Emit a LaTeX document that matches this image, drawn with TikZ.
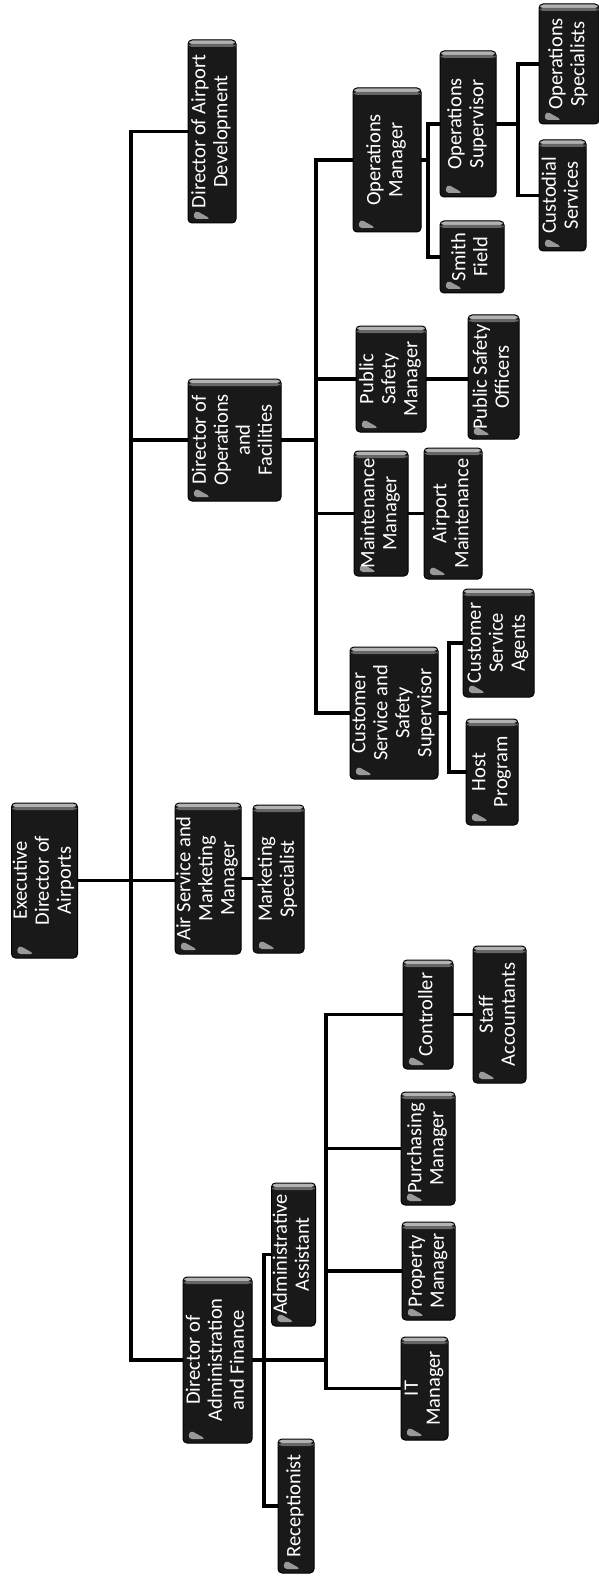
\documentclass[tikz,border=0pt]{standalone}
\usepackage{graphicx}
\usepackage{fontspec}
\setmainfont{Carlito}
\newcommand\boxtext[1]{\rotatebox{90}{\fontsize{20.5}{22}\selectfont\begin{tabular}{@{}c@{}}#1\end{tabular}}}
\newcommand\orgbox[6]{\node[orgb, minimum width={(#4-#2)*1pt}, minimum height={(#5-#3)*1pt}] (#1) at ({(#2+#4)*0.5pt},{-(#3+#5)*0.5pt}) {\boxtext{#6}};}
\tikzset{
  orgb/.style={draw=black, line width=1pt, fill=black!90, text=white, rounded corners=4pt, inner sep=0pt, outer sep=0pt,
    path picture={
      \fill[black!30] ([yshift=-4pt]path picture bounding box.north west) rectangle (path picture bounding box.north east);
      \fill[black!60] ([yshift=-4pt]path picture bounding box.north west) rectangle ([yshift=-7pt]path picture bounding box.north east);
      \fill[black!40] ([xshift=5pt,yshift=4pt]path picture bounding box.south west) -- ++(18pt,0) -- ++(-16pt,9pt) -- cycle;
    }},
  conn/.style={draw=black, line width=3.2pt, line join=miter},
  trunk/.style={conn, line width=3.8pt}
}
\arrayrulewidth=0pt
\renewcommand{\arraystretch}{1}
\begin{document}
\begin{tikzpicture}
\useasboundingbox[fill=white] (0,0) rectangle (599pt,-1578pt);
% boxes
\orgbox{ED}{13}{803}{76}{958}{Executive\\Director of\\Airports}
\orgbox{DAD}{188}{40}{236}{223}{Director of Airport\\Development}
\orgbox{DOF}{188}{379}{281}{501}{Director of\\Operations\\and\\Facilities}
\orgbox{ASM}{178}{803}{238}{954}{Air Service and\\Marketing\\Manager}
\orgbox{MS}{253}{805}{304}{953}{Marketing\\Specialist}
\orgbox{DAF}{183}{1277}{252}{1443}{Director of\\Administration\\and Finance}
\orgbox{AA}{275}{1183}{312}{1326}{Administrative\\Assistant}
\orgbox{Rec}{278}{1439}{314}{1573}{Receptionist}
\orgbox{IT}{401}{1337}{448}{1440}{IT\\Manager}
\orgbox{Prop}{402}{1222}{455}{1320}{Property\\Manager}
\orgbox{Purch}{401}{1092}{455}{1205}{Purchasing\\Manager}
\orgbox{Ctrl}{403}{960}{453}{1069}{Controller}
\orgbox{Staff}{473}{946}{526}{1083}{Staff\\Accountants}
\orgbox{CSSS}{352}{647}{436}{779}{Customer\\Service and\\Safety\\Supervisor}
\orgbox{Host}{466}{719}{518}{825}{Host\\Program}
\orgbox{CSA}{463}{589}{534}{697}{Customer\\Service\\Agents}
\orgbox{MM}{354}{451}{408}{576}{Maintenance\\Manager}
\orgbox{AM}{424}{448}{482}{579}{Airport\\Maintenance}
\orgbox{PSM}{356}{326}{426}{432}{Public\\Safety\\Manager}
\orgbox{PSO}{468}{315}{519}{439}{Public Safety\\Officers}
\orgbox{OM}{353}{88}{421}{232}{Operations\\Manager}
\orgbox{SF}{440}{221}{504}{293}{Smith\\Field}
\orgbox{OS}{440}{51}{496}{197}{Operations\\Supervisor}
\orgbox{CS}{539}{140}{586}{251}{Custodial\\Services}
\orgbox{OSp}{539}{4}{599}{124}{Operations\\Specialists}
% junction columns
\coordinate (tx) at (131pt,0);
\coordinate (ox) at (316pt,0);
\coordinate (cx) at (449pt,0);
\coordinate (qx) at (428pt,0);
\coordinate (rx) at (518pt,0);
\coordinate (ax) at (326pt,0);
\coordinate (bx) at (264pt,0);
% main trunk
\draw[trunk] (DAD.west) -| (tx |- DAF.west) -- (DAF.west);
\draw[conn] (DOF.west) -- (DOF.west -| tx);
\draw[conn] (ED.east) -- (ED.east -| ASM.west);
\draw[conn] (ASM.east) -- (ASM.east -| MS.west);
% operations
\draw[conn] (DOF.east) -- (DOF.east -| ox);
\draw[conn] (OM.west) -| (ox |- CSSS.west) -- (CSSS.west);
\draw[conn] (PSM.west) -- (PSM.west -| ox);
\draw[conn] (MM.west) -- (MM.west -| ox);
\draw[conn] (PSM.east) -- (PSM.east -| PSO.west);
\draw[conn] (MM.east) -- (MM.east -| AM.west);
\draw[conn] (CSSS.east) -- (CSSS.east -| cx);
\draw[conn] (CSA.west) -| (cx |- Host.west) -- (Host.west);
\draw[conn] (OM.east) -- (OM.east -| qx);
\draw[conn] (OS.west) -| (qx |- SF.west) -- (SF.west);
\draw[conn] (OS.east) -- (OS.east -| rx);
\draw[conn] (OSp.west) -| (rx |- CS.west) -- (CS.west);
% administration
\draw[conn] (DAF.east) -- (DAF.east -| ax);
\draw[conn] (Ctrl.west) -| (ax |- IT.west) -- (IT.west);
\draw[conn] (Purch.west) -- (Purch.west -| ax);
\draw[conn] (Prop.west) -- (Prop.west -| ax);
\draw[conn] (Ctrl.east) -- (Ctrl.east -| Staff.west);
\draw[conn] (AA.west) -| (bx |- Rec.west) -- (Rec.west);
\end{tikzpicture}
\end{document}
